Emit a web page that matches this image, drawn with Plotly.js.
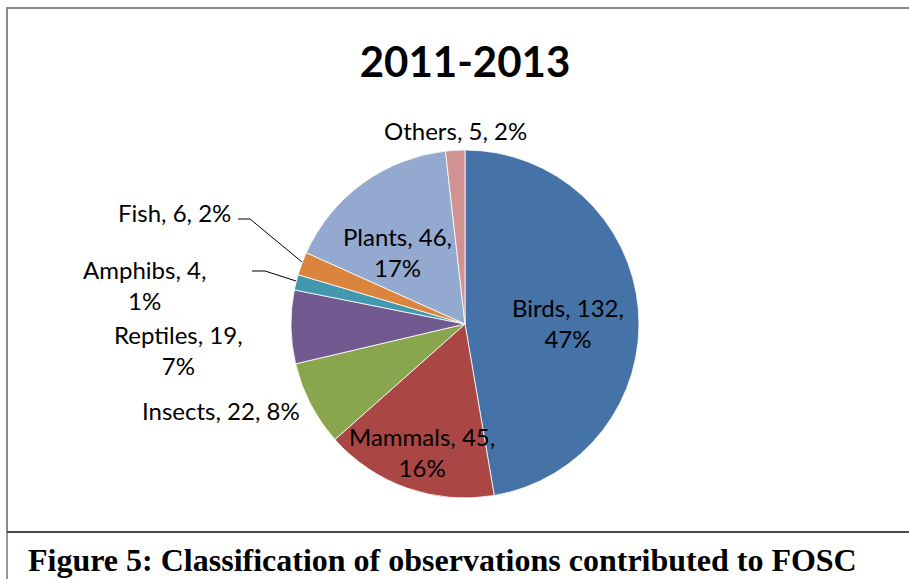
<!DOCTYPE html>
<html>
<head>
<meta charset="utf-8">
<script src="https://cdn.plot.ly/plotly-3.0.1.min.js"></script>
<style>html,body{margin:0;padding:0;background:#fff;}#chart{width:909px;height:579px;}</style>
</head>
<body>
<div id="chart"></div>
<script>
// ---- data ----
const categories = ["Birds", "Mammals", "Insects", "Reptiles", "Amphibs", "Fish", "Plants", "Others"];
const counts = [132, 45, 22, 19, 4, 6, 46, 5];
const sliceColors = ["#4572A7", "#AA4643", "#89A54E", "#71588F", "#4198AF", "#DB843D", "#93A9CF", "#D19392"];
const chartTitle = "2011-2013";
const captionText = "Figure 5: Classification of observations contributed to FOSC";

// ---- layout helpers (pixel -> paper) ----
const W = 909, H = 579;
const px = x => x / W;
const py = y => 1 - y / H;

// label placement (centre in px) and whether the percent goes on a second line
const labelPos = [
  {x: 568, y: 323, brk: 1},
  {x: 422, y: 452, brk: 1},
  {x: 221, y: 410, brk: 0},
  {x: 178, y: 350, brk: 1},
  {x: 144, y: 285, brk: 1},
  {x: 174, y: 212, brk: 0},
  {x: 397, y: 252, brk: 1},
  {x: 455, y: 130, brk: 0}
];

// percentages rounded so they sum to 100 (largest remainder, as the spreadsheet does)
const total = counts.reduce((a, b) => a + b, 0);
const raw = counts.map(v => v / total * 100);
const pcts = raw.map(Math.floor);
let left = 100 - pcts.reduce((a, b) => a + b, 0);
raw.map((r, i) => [r - Math.floor(r), i]).sort((a, b) => b[0] - a[0])
   .slice(0, left).forEach(([, i]) => pcts[i] += 1);

const annotations = categories.map((c, i) => {
  const sep = labelPos[i].brk ? ",<br>" : ", ";
  return {
    text: c + ", " + counts[i] + sep + pcts[i] + "%",
    x: px(labelPos[i].x), y: py(labelPos[i].y),
    xref: "paper", yref: "paper", xanchor: "center", yanchor: "middle",
    showarrow: false, align: "center",
    font: {family: "Lato, 'Open Sans', sans-serif", size: 24, color: "#000"}
  };
});
annotations.push({
  text: "<b>" + captionText + "</b>",
  x: px(26), y: py(560), xref: "paper", yref: "paper",
  xanchor: "left", yanchor: "middle", showarrow: false,
  font: {family: "'Liberation Serif', 'Times New Roman', serif", size: 32, color: "#000"}
});

const shapes = [
  // chart border (gray)
  {type: "path", xref: "paper", yref: "paper",
   path: `M ${px(7)} ${py(532)} L ${px(7)} ${py(8)} L ${px(912)} ${py(8)}`,
   line: {color: "#8a8a8a", width: 2}},
  // divider
  {type: "line", xref: "paper", yref: "paper", x0: px(7), x1: px(912), y0: py(532), y1: py(532),
   line: {color: "#4a4a4a", width: 2}},
  {type: "line", xref: "paper", yref: "paper", x0: px(7), x1: px(7), y0: py(532), y1: py(582),
   line: {color: "#333", width: 1}},
  // leader lines
  {type: "path", xref: "paper", yref: "paper",
   path: `M ${px(238)} ${py(219)} L ${px(250)} ${py(219)} L ${px(302)} ${py(262)}`,
   line: {color: "#000", width: 1}},
  {type: "path", xref: "paper", yref: "paper",
   path: `M ${px(252)} ${py(271)} L ${px(265)} ${py(271)} L ${px(296)} ${py(281)}`,
   line: {color: "#000", width: 1}}
];

const trace = {
  type: "pie",
  labels: categories,
  values: counts,
  sort: false,
  direction: "clockwise",
  rotation: 0,
  textinfo: "none",
  hoverinfo: "label+value+percent",
  marker: {colors: sliceColors, line: {color: "#ffffff", width: 0.8}},
  domain: {x: [px(291), px(639)], y: [py(498), py(150)]},
  showlegend: false
};

const layout = {
  width: W, height: H,
  margin: {l: 0, r: 0, t: 0, b: 0},
  paper_bgcolor: "#fff",
  showlegend: false,
  title: {
    text: "<b>" + chartTitle + "</b>",
    x: px(465), xanchor: "center", y: py(62), yanchor: "middle",
    font: {family: "Lato, 'Open Sans', sans-serif", size: 42, color: "#000"}
  },
  annotations: annotations,
  shapes: shapes
};

Plotly.newPlot("chart", [trace], layout, {displayModeBar: false, staticPlot: true});
</script>
</body>
</html>
